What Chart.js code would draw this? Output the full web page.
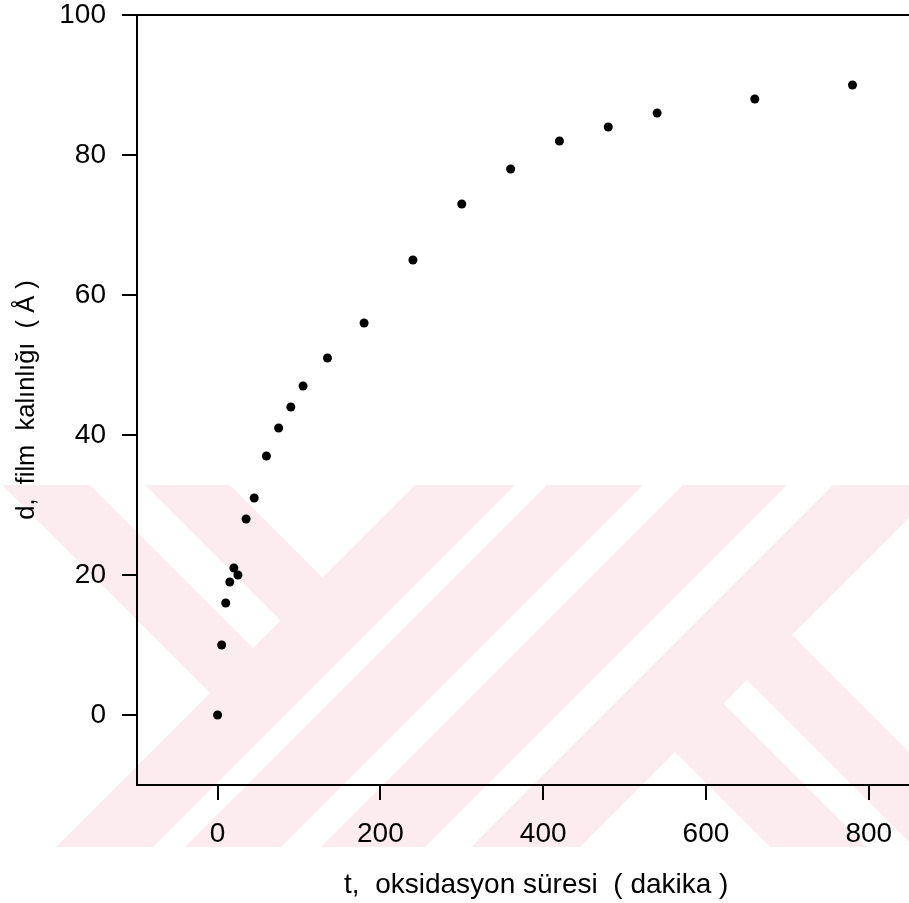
<!DOCTYPE html>
<html>
<head>
<meta charset="utf-8">
<script src="https://cdn.jsdelivr.net/npm/chart.js@4.4.0/dist/chart.umd.min.js"></script>
<style>
html, body { margin: 0; padding: 0; background: #fff; overflow: hidden; }
#wrap { width: 909px; height: 903px; overflow: hidden; }
</style>
</head>
<body>
<div id="wrap"><canvas id="chart" width="940" height="903"></canvas></div>
<script>
// oxidation time (minutes) and film thickness (Å)
const times = [0, 5, 10, 15, 20, 25, 35, 45, 60, 75, 90, 105, 135, 180, 240, 300, 360, 420, 480, 540, 660, 780];
const thickness = [0, 10, 16, 19, 21, 20, 28, 31, 37, 41, 44, 47, 51, 56, 65, 73, 78, 82, 84, 86, 88, 90];

const xTicks = [0, 200, 400, 600, 800];
const yTicks = [0, 20, 40, 60, 80, 100];

const xTitle = "t,  oksidasyon süresi  ( dakika )";
const yTitle = "d,  film  kalınlığı  ( Å )";

const fontFamily = "'Liberation Sans', Arial, sans-serif";

// scanned page watermark behind the plot
const watermark = {
    id: "watermark",
    beforeDraw(chart) {
        const ctx = chart.ctx;
        ctx.save();
        ctx.beginPath();
        ctx.rect(0, 485, chart.width, 362);
        ctx.clip();
        ctx.fillStyle = "rgb(253,236,239)";
        ctx.fillRect(0, 485, chart.width, 362);
        ctx.fillStyle = "#fff";
        const shapes = [
            [[230, 485], [415, 485], [322.5, 577.5]],
            [[90, 485], [145, 485], [280.5, 620.5], [253, 648]],
            [[210, 693], [-10, 473], [-10, 913]],
            [[600, 400], [632, 400], [82, 950], [50, 950]],
            [[728, 400], [768, 400], [218, 950], [178, 950]],
            [[872, 400], [918, 400], [368, 950], [322, 950]],
            [[792, 635], [1027, 400], [1300, 400], [1300, 1143]],
            [[747, 680], [723.5, 703.5], [1300, 1280], [1300, 1233]],
            [[675, 752], [923, 1000], [427, 1000]]
        ];
        shapes.forEach(pts => {
            ctx.beginPath();
            ctx.moveTo(pts[0][0], pts[0][1]);
            for (let i = 1; i < pts.length; i++) {
                ctx.lineTo(pts[i][0], pts[i][1]);
            }
            ctx.closePath();
            ctx.fill();
        });
        ctx.restore();
    }
};

// top frame line
const topLine = {
    id: "topLine",
    afterDraw(chart) {
        const ctx = chart.ctx;
        const area = chart.chartArea;
        ctx.save();
        ctx.strokeStyle = "#000";
        ctx.lineWidth = 2;
        ctx.beginPath();
        ctx.moveTo(area.left, area.top);
        ctx.lineTo(area.right, area.top);
        ctx.stroke();
        ctx.restore();
    }
};

new Chart(document.getElementById("chart"), {
    type: "scatter",
    data: {
        datasets: [{
            data: times.map((t, i) => ({ x: t, y: thickness[i] })),
            backgroundColor: "#000",
            borderWidth: 0,
            pointRadius: 4.5,
            pointHoverRadius: 4.5
        }]
    },
    options: {
        responsive: false,
        animation: false,
        layout: {
            padding: { top: 15, left: 0, right: 0, bottom: 0 }
        },
        plugins: {
            legend: { display: false },
            tooltip: { enabled: false }
        },
        scales: {
            x: {
                type: "linear",
                min: -99,
                max: 882,
                afterBuildTicks: scale => {
                    scale.ticks = xTicks.map(v => ({ value: v }));
                },
                afterFit: scale => {
                    scale.height = 118;
                },
                grid: {
                    drawOnChartArea: false,
                    tickLength: 15,
                    color: "#000",
                    lineWidth: 2
                },
                border: { display: true, color: "#000", width: 2 },
                ticks: {
                    color: "#000",
                    padding: 17,
                    maxRotation: 0,
                    autoSkip: false,
                    font: { family: fontFamily, size: 28 }
                },
                title: {
                    display: true,
                    text: xTitle,
                    color: "#000",
                    font: { family: fontFamily, size: 28 },
                    padding: { top: 0, bottom: 1 }
                }
            },
            y: {
                type: "linear",
                min: -10,
                max: 100,
                afterBuildTicks: scale => {
                    scale.ticks = yTicks.map(v => ({ value: v }));
                },
                afterFit: scale => {
                    scale.width = 137;
                    scale.paddingTop = 0;
                    scale.paddingBottom = 0;
                },
                grid: {
                    drawOnChartArea: false,
                    tickLength: 15,
                    color: "#000",
                    lineWidth: 2
                },
                border: { display: true, color: "#000", width: 2 },
                ticks: {
                    color: "#000",
                    padding: 16,
                    font: { family: fontFamily, size: 28 }
                },
                title: {
                    display: true,
                    text: yTitle,
                    color: "#000",
                    font: { family: fontFamily, size: 25.5 },
                    padding: { top: 12, bottom: 0 }
                }
            }
        }
    },
    plugins: [watermark, topLine]
});
</script>
</body>
</html>
